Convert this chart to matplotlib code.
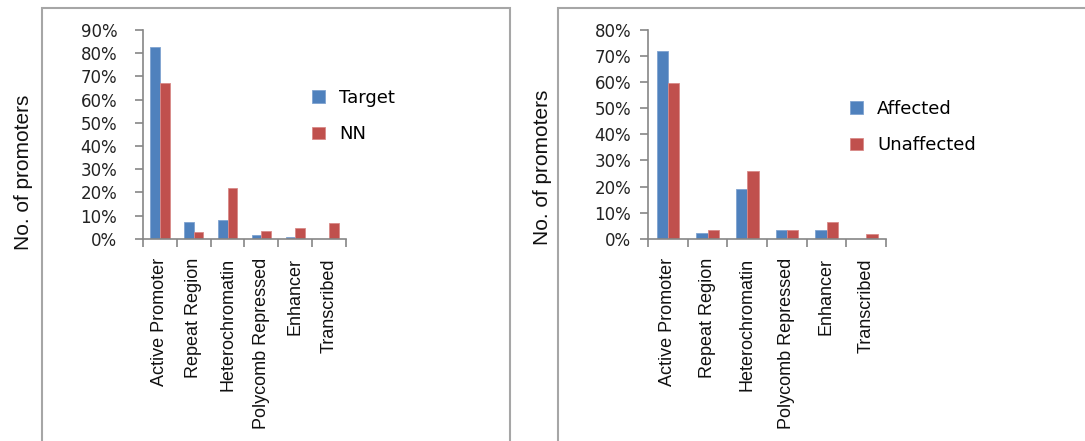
import matplotlib
matplotlib.use("Agg")
import matplotlib.pyplot as plt
from matplotlib.patches import Rectangle
from matplotlib.ticker import FixedLocator, PercentFormatter
import numpy as np

# Chromatin states of the promoters
categories = ["Active Promoter", "Repeat Region", "Heterochromatin",
              "Polycomb Repressed", "Enhancer", "Transcribed"]

# Panel A: target promoters vs nearest-neighbour controls (fractions)
target = [0.828, 0.073, 0.081, 0.014, 0.007, 0.0]
nn = [0.670, 0.028, 0.220, 0.034, 0.047, 0.066]

# Panel B: affected vs unaffected promoters (fractions)
affected = [0.720, 0.023, 0.191, 0.033, 0.033, 0.0]
unaffected = [0.597, 0.033, 0.258, 0.033, 0.065, 0.017]

W, H = 1085, 441
BLUE = "#4F81BD"
RED = "#C0504D"
AXIS_GRAY = "#868686"
BOX_GRAY = "#A6A6A6"
NARROW = ["Liberation Sans", "DejaVu Sans"]
WIDE = ["DejaVu Sans"]

fig = plt.figure(figsize=(W / 100, H / 100), dpi=100)


def px_rect(x0, y_top, x1, y_bot):
    """Figure-fraction rectangle from pixel edges (y measured from the top)."""
    return [x0 / W, 1 - y_bot / H, (x1 - x0) / W, (y_bot - y_top) / H]


# outer frames around each chart
for (x0, y0, x1, y1) in [(42, 8, 510, 460), (558, 8, 1100, 460)]:
    fig.patches.append(Rectangle((x0 / W, 1 - y1 / H), (x1 - x0) / W, (y1 - y0) / H,
                                 transform=fig.transFigure, fill=False,
                                 edgecolor=BOX_GRAY, linewidth=1.5, zorder=0))


def panel(rect, s1, s2, names, ymax, ypad, legend_xy, ylabel_xy):
    ax = fig.add_axes(rect)
    n = len(categories)
    x = np.arange(n)
    bw = 1 / 3.5
    ax.bar(x - bw / 2, s1, width=bw, color=BLUE, edgecolor="#7FA3D0",
           linewidth=0.6, label=names[0], zorder=2)
    ax.bar(x + bw / 2, s2, width=bw, color=RED, edgecolor="#D98A88",
           linewidth=0.6, label=names[1], zorder=2)
    ax.set_xlim(-0.5, n - 0.5)
    ax.set_ylim(0, ymax)
    ax.set_yticks(np.arange(0, ymax + 1e-9, 0.1))
    ax.yaxis.set_major_formatter(PercentFormatter(1.0, decimals=0))
    for s in ["top", "right"]:
        ax.spines[s].set_visible(False)
    for s in ["left", "bottom"]:
        ax.spines[s].set_color(AXIS_GRAY)
        ax.spines[s].set_linewidth(1.2)
    ax.tick_params(axis="y", direction="out", length=6, width=1.2,
                   color=AXIS_GRAY, pad=ypad, labelsize=12, labelcolor="#222222")
    for t in ax.get_yticklabels():
        t.set_fontfamily(WIDE)
    ax.set_xticks(x)
    ax.set_xticklabels(categories, rotation=90, fontsize=13, family=NARROW,
                       color="#111111")
    ax.tick_params(axis="x", which="major", length=0, pad=14)
    ax.xaxis.set_minor_locator(FixedLocator(np.arange(-0.5, n, 1.0)))
    ax.tick_params(axis="x", which="minor", direction="out", length=6,
                   width=1.2, color=AXIS_GRAY)
    fig.text(ylabel_xy[0] / W, 1 - ylabel_xy[1] / H, "No. of promoters",
             rotation=90, ha="center", va="center", fontsize=15,
             family=NARROW, color="#111111")
    ax.legend(loc="center left",
              bbox_to_anchor=(legend_xy[0] / W, 1 - legend_xy[1] / H),
              bbox_transform=fig.transFigure, frameon=False,
              prop={"family": WIDE, "size": 13},
              handlelength=0.7, handleheight=0.7, handletextpad=0.8,
              labelspacing=1.05, borderpad=0, borderaxespad=0)
    return ax


panel(px_rect(143, 30, 346, 238.7), target, nn, ["Target", "NN"],
      0.9, 12.5, (312, 116), (24, 172))
panel(px_rect(648, 30, 886, 238.7), affected, unaffected,
      ["Affected", "Unaffected"], 0.8, 6, (850, 127), (543, 167))

fig.savefig("out.png", dpi=100)
